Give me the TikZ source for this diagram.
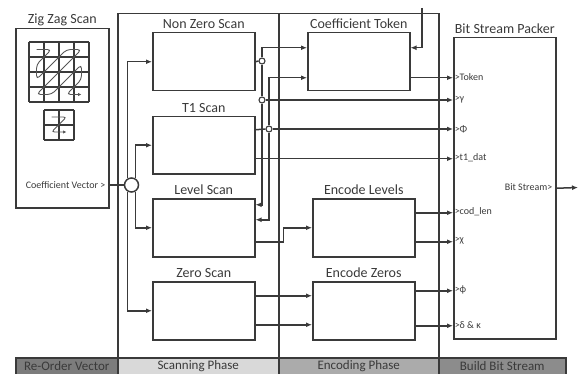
\documentclass[tikz,border=0pt]{standalone}
\usepackage{fontspec}
\setmainfont{Carlito}
\usetikzlibrary{arrows.meta,calc}
\definecolor{ln}{HTML}{3A3A3A}
\definecolor{barA}{HTML}{7C7C7C}
\definecolor{barB}{HTML}{D9D9D9}
\definecolor{barC}{HTML}{ABABAB}
\definecolor{barD}{HTML}{8C8C8C}
\definecolor{zz}{HTML}{555555}
\begin{document}
\begin{tikzpicture}[x=1pt,y=-1pt,line width=1.5pt,color=ln,
  box/.style={draw,rectangle,inner sep=0pt,anchor=north west},
  ttl/.style={font=\fontsize{14}{16}\selectfont,anchor=base,inner sep=0pt},
  arr/.style={-{Latex[length=6pt,width=5pt]}},
  jn/.style={circle,draw,fill=white,inner sep=0pt,minimum size=6pt,line width=1.1pt},
  port/.style={font=\fontsize{10}{11}\selectfont,anchor=west,inner sep=0pt},
  barbox/.style={draw,rectangle,anchor=north west,inner sep=0pt,minimum height=16.5pt,text=ln,font=\fontsize{13}{14}\selectfont}]
\useasboundingbox (0,0) rectangle (580,374);
% frames
\node[box,minimum width=161pt,minimum height=344pt] (scan) at (117,13) {};
\node[box,minimum width=160pt,minimum height=344pt] (enc) at (278,13) {};
\node[box,minimum width=93pt,minimum height=179pt] (zz) at (15,28) {};
\node[ttl] at ($(zz.north)+(0,-4.5)$) {Zig Zag Scan};
% zigzag grids
\foreach \i in {0,15,30,45,60} {
  \draw (29+\i,42) -- (29+\i,102);
  \draw (29,42+\i) -- (89,42+\i);
}
\foreach \i in {0,15,30} {
  \draw (44+\i,110) -- (44+\i,140);
  \draw (44,110+\i) -- (74,110+\i);
}
\draw[zz,line width=0.9pt,rounded corners=4pt,-{Latex[length=3.5pt,width=3.5pt]}]
  (36.5,49.5) -- (51.5,49.5) -- (36.5,64.5) -- (36.5,79.5) -- (51.5,64.5) -- (66.5,49.5)
  -- (81.5,49.5) -- (66.5,64.5) -- (51.5,79.5) -- (36.5,94.5) -- (51.5,94.5) -- (66.5,79.5)
  -- (81.5,64.5) -- (81.5,79.5) -- (66.5,94.5) -- (81.5,94.5);
\draw[zz,line width=0.9pt,rounded corners=3pt,-{Latex[length=3.5pt,width=3.5pt]}]
  (51.5,117) -- (66.5,117) -- (51.5,132) -- (66.5,132);
% scanning boxes
\node[box,minimum width=102pt,minimum height=58pt] (nz) at (152,32) {};
\node[ttl] at ($(nz.north)+(0,-3)$) {Non Zero Scan};
\node[box,minimum width=102pt,minimum height=57pt] (t1) at (152,116) {};
\node[ttl] at ($(t1.north)+(0,-3.5)$) {T1 Scan};
\node[box,minimum width=102pt,minimum height=58pt] (ls) at (152,198) {};
\node[ttl] at ($(ls.north)+(0,-3.5)$) {Level Scan};
\node[box,minimum width=102pt,minimum height=58pt] (zs) at (152,281) {};
\node[ttl] at ($(zs.north)+(0,-3.5)$) {Zero Scan};
% encoding boxes
\node[box,minimum width=102pt,minimum height=58pt] (ct) at (307,32) {};
\node[ttl] at ($(ct.north)+(0,-3)$) {Coefficient Token};
\node[box,minimum width=102pt,minimum height=58pt] (el) at (312,198) {};
\node[ttl] at ($(el.north)+(0,-3.5)$) {Encode Levels};
\node[box,minimum width=102pt,minimum height=58pt] (ez) at (312,281) {};
\node[ttl] at ($(ez.north)+(0,-3.5)$) {Encode Zeros};
% packer
\node[box,minimum width=102pt,minimum height=301pt] (bp) at (453,37) {};
\node[ttl] at ($(bp.north)+(0,-3)$) {Bit Stream Packer};
% coefficient vector input
\node[circle,draw,fill=white,inner sep=0pt,minimum size=14pt] (cv) at (131.5,185) {};
\node[font=\fontsize{10}{11}\selectfont,anchor=east,inner sep=0pt] (cvl) at (106,185) {Coefficient Vector >};
\draw (cv.west -| zz.east) -- (cv.west);
\draw[arr] (cv.120) |- (nz.west);
\draw[arr] (cv.60) |- (t1.west);
\draw[arr] (cv.-60) |- (ls.west);
\draw[arr] (cv.-120) |- (zs.west);
% non zero scan output
\node[jn] (j1) at (262,61) {};
\node[jn] (j2) at (262,100) {};
\draw (nz.east) -- (j1.west);
\draw[arr] (j1.north) |- ([yshift=14pt]ct.west);
\draw (j1.south) -- (j2.north);
\draw[arr] (j2.south) |- ([yshift=23pt]ls.east);
\draw[arr] (j2.east) -- (j2 -| bp.west);
% T1 outputs
\node[jn] (j3) at (269,129) {};
\draw ([yshift=15.5pt]t1.east) -- (j3.west);
\draw[arr] (j3.east) -- (j3 -| bp.west);
\draw[arr] (j3.north) |- ([yshift=-16pt]ct.west);
\draw[arr] (j3.south) |- ([yshift=8pt]ls.east);
\draw[arr] ([yshift=-13.5pt]t1.east) -- ([yshift=-13.5pt]t1.east -| bp.west);
% level scan output
\draw[arr] ([yshift=-14pt]ls.east) -| ($(ls.east)!.5!(el.west)+(-0.5,0)$) -- (el.west);
% zero scan outputs
\draw[arr] ([yshift=15pt]zs.east) -- ([yshift=15pt]ez.west);
\draw[arr] ([yshift=-14pt]zs.east) -- ([yshift=-14pt]ez.west);
% coefficient token input and output
\coordinate (ctin) at (422,8);
\draw[arr] (ctin) |- ([yshift=14pt]ct.east);
\draw[arr] ([yshift=-16pt]ct.east) -- ([yshift=-16pt]ct.east -| bp.west);
% encode outputs
\draw[arr] ([yshift=15pt]el.east) -- ([yshift=15pt]el.east -| bp.west);
\draw[arr] ([yshift=-14pt]el.east) -- ([yshift=-14pt]el.east -| bp.west);
\draw[arr] ([yshift=20pt]ez.east) -- ([yshift=20pt]ez.east -| bp.west);
\draw[arr] ([yshift=-15pt]ez.east) -- ([yshift=-15pt]ez.east -| bp.west);
% port labels
\node[port] (p1) at (454,77) {>Token};
\node[port] (p2) at (454,100) {>γ};
\node[port] (p3) at (454,129) {>Φ};
\node[port] (p4) at (454,158) {>t1\_dat};
\node[port] (p5) at (454,212) {>cod\_len};
\node[port] (p6) at (454,241) {>χ};
\node[port] (p7) at (454,290) {>ϕ};
\node[port] (p8) at (454,325) {>δ \& κ};
\node[port,anchor=east] (bsl) at (553,187.5) {Bit Stream>};
\coordinate (bsout) at (578,187.5);
\draw[arr] (bp.east) -- (bsout);
% bottom bar
\node[barbox,fill=barA,minimum width=102pt] (b1) at (15,357) {Re-Order Vector};
\node[barbox,fill=barB,minimum width=161pt] (b2) at (117,357) {Scanning Phase};
\node[barbox,fill=barC,minimum width=160pt] (b3) at (278,357) {Encoding Phase};
\node[barbox,fill=barD,minimum width=127pt] (b4) at (438,357) {Build Bit Stream};
\end{tikzpicture}
\end{document}
